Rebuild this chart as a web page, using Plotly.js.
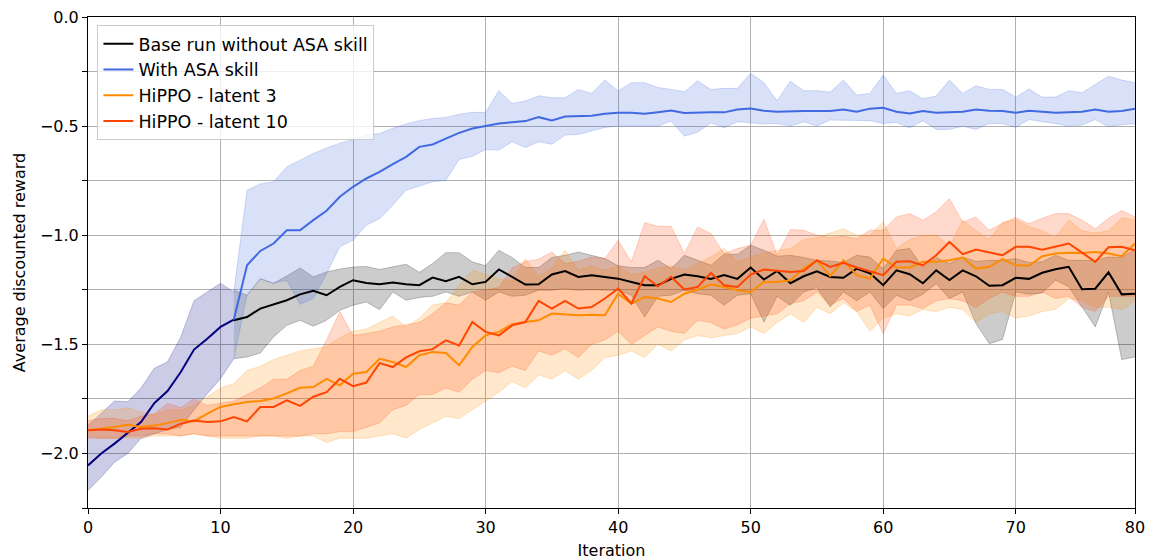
<!DOCTYPE html>
<html>
<head>
<meta charset="utf-8">
<script src="https://cdn.plot.ly/plotly-3.0.1.min.js"></script>
<style>
  html, body { margin: 0; padding: 0; background: #ffffff; }
  #chart { width: 1155px; height: 560px; }
</style>
</head>
<body>
<div id="chart"></div>
<script>
// ---------------- data ----------------
// Shared warm-up phase (iterations 0..11), drawn in navy
const warmStart = 0;
const warmMean  = [-2.055, -2.0, -1.955, -1.907, -1.856, -1.77, -1.714, -1.627, -1.524, -1.474, -1.42, -1.387];
const warmUpper = [-1.872, -1.818, -1.76, -1.763, -1.70, -1.61, -1.58, -1.466, -1.30, -1.26, -1.22, -1.26];
const warmLower = [-2.17, -2.108, -2.04, -2.0, -1.93, -1.91, -1.89, -1.88, -1.80, -1.726, -1.657, -1.566];

// Base run without ASA skill (iterations 11..79)
const baseStart = 11;
const baseMean = [-1.39, -1.375, -1.336, -1.317, -1.298, -1.271, -1.255, -1.275, -1.237, -1.206,
  -1.219, -1.225, -1.217, -1.225, -1.229, -1.194, -1.211, -1.191, -1.225, -1.214,
  -1.157, -1.191, -1.226, -1.225, -1.18, -1.164, -1.191, -1.183, -1.191, -1.199,
  -1.214, -1.229, -1.229, -1.2, -1.18, -1.188, -1.2, -1.183, -1.2, -1.148,
  -1.203, -1.164, -1.22, -1.188, -1.165, -1.191, -1.195, -1.153, -1.174, -1.229,
  -1.161, -1.179, -1.22, -1.161, -1.205, -1.161, -1.188, -1.232, -1.229, -1.195,
  -1.2, -1.172, -1.156, -1.145, -1.248, -1.245, -1.17, -1.271, -1.268];
const baseUpper = [-1.252, -1.275, -1.2, -1.22, -1.187, -1.15, -1.191, -1.168, -1.155, -1.146,
  -1.143, -1.157, -1.145, -1.133, -1.17, -1.13, -1.08, -1.08, -1.122, -1.14,
  -1.069, -1.102, -1.148, -1.148, -1.102, -1.092, -1.077, -1.092, -1.107, -1.14,
  -1.148, -1.148, -1.115, -1.153, -1.092, -1.115, -1.138, -1.087, -1.087, -1.046,
  -1.069, -1.096, -1.092, -1.102, -1.115, -1.118, -1.125, -1.092, -1.1, -1.153,
  -1.069, -1.061, -1.149, -1.102, -1.13, -1.1, -1.12, -1.115, -1.115, -1.107,
  -1.125, -1.122, -1.092, -1.115, -1.115, -1.115, -1.1, -1.102, -1.064];
const baseLower = [-1.566, -1.558, -1.54, -1.466, -1.413, -1.39, -1.417, -1.39, -1.344, -1.321,
  -1.306, -1.341, -1.26, -1.298, -1.285, -1.28, -1.26, -1.28, -1.26, -1.298,
  -1.26, -1.28, -1.275, -1.252, -1.252, -1.245, -1.252, -1.25, -1.252, -1.252,
  -1.275, -1.375, -1.28, -1.275, -1.252, -1.268, -1.275, -1.321, -1.275, -1.268,
  -1.398, -1.28, -1.321, -1.26, -1.24, -1.329, -1.26, -1.3, -1.26, -1.336,
  -1.275, -1.3, -1.27, -1.222, -1.29, -1.26, -1.405, -1.497, -1.478, -1.26,
  -1.27, -1.265, -1.206, -1.236, -1.329, -1.42, -1.26, -1.57, -1.558];

// With ASA skill (iterations 11..79)
const asaStart = 11;
const asaMean = [-1.387, -1.138, -1.072, -1.038, -0.977, -0.977, -0.931, -0.888, -0.824, -0.778,
  -0.74, -0.71, -0.674, -0.641, -0.595, -0.584, -0.557, -0.531, -0.511, -0.5,
  -0.488, -0.482, -0.477, -0.459, -0.474, -0.456, -0.454, -0.453, -0.443, -0.439,
  -0.439, -0.443, -0.436, -0.428, -0.44, -0.437, -0.437, -0.437, -0.424, -0.419,
  -0.43, -0.434, -0.431, -0.431, -0.431, -0.431, -0.424, -0.434, -0.42, -0.416,
  -0.434, -0.442, -0.431, -0.439, -0.437, -0.434, -0.424, -0.43, -0.431, -0.439,
  -0.43, -0.434, -0.439, -0.437, -0.434, -0.424, -0.434, -0.431, -0.42];
const asaUpper = [-1.26, -0.794, -0.765, -0.755, -0.687, -0.655, -0.625, -0.6, -0.578, -0.562,
  -0.541, -0.534, -0.51, -0.49, -0.475, -0.465, -0.46, -0.446, -0.437, -0.437,
  -0.338, -0.396, -0.385, -0.361, -0.37, -0.37, -0.332, -0.35, -0.289, -0.339,
  -0.301, -0.301, -0.323, -0.332, -0.343, -0.292, -0.332, -0.327, -0.327, -0.258,
  -0.301, -0.384, -0.294, -0.338, -0.338, -0.344, -0.289, -0.358, -0.35, -0.266,
  -0.35, -0.338, -0.375, -0.362, -0.289, -0.35, -0.315, -0.332, -0.332, -0.367,
  -0.33, -0.367, -0.367, -0.338, -0.347, -0.309, -0.271, -0.289, -0.301];
const asaLower = [-1.566, -1.275, -1.198, -1.22, -1.206, -1.317, -1.29, -1.176, -1.053, -1.023,
  -0.954, -0.924, -0.862, -0.794, -0.775, -0.755, -0.748, -0.653, -0.638, -0.607,
  -0.61, -0.572, -0.598, -0.572, -0.583, -0.541, -0.538, -0.523, -0.506, -0.5,
  -0.5, -0.5, -0.5, -0.477, -0.546, -0.528, -0.485, -0.508, -0.48, -0.485,
  -0.49, -0.488, -0.5, -0.48, -0.5, -0.472, -0.472, -0.475, -0.475, -0.488,
  -0.483, -0.508, -0.475, -0.515, -0.515, -0.5, -0.515, -0.488, -0.488, -0.506,
  -0.47, -0.48, -0.488, -0.5, -0.495, -0.47, -0.503, -0.494, -0.488];

// HiPPO - latent 3 (iterations 0..79)
const h3Start = 0;
const h3Mean = [-1.894, -1.887, -1.879, -1.869, -1.879, -1.872, -1.861, -1.846, -1.853, -1.818,
  -1.787, -1.775, -1.764, -1.76, -1.748, -1.725, -1.699, -1.696, -1.658, -1.688,
  -1.635, -1.627, -1.566, -1.581, -1.604, -1.55, -1.535, -1.54, -1.596, -1.512,
  -1.459, -1.443, -1.408, -1.398, -1.39, -1.359, -1.362, -1.367, -1.365, -1.367,
  -1.268, -1.313, -1.283, -1.29, -1.306, -1.268, -1.249, -1.225, -1.237, -1.252,
  -1.26, -1.214, -1.214, -1.206, -1.153, -1.115, -1.187, -1.115, -1.183, -1.199,
  -1.107, -1.148, -1.148, -1.122, -1.122, -1.115, -1.102, -1.153, -1.145, -1.11,
  -1.138, -1.14, -1.096, -1.084, -1.08, -1.082, -1.077, -1.084, -1.096, -1.038];
const h3Upper = [-1.83, -1.80, -1.80, -1.79, -1.81, -1.82, -1.80, -1.80, -1.78, -1.74,
  -1.70, -1.68, -1.62, -1.60, -1.57, -1.55, -1.53, -1.52, -1.51, -1.47,
  -1.44, -1.43, -1.40, -1.37, -1.42, -1.38, -1.32, -1.31, -1.23, -1.16,
  -1.18, -1.20, -1.21, -1.107, -1.19, -1.15, -1.069, -1.16, -1.14, -1.16,
  -1.14, -1.18, -1.17, -1.15, -1.14, -1.16, -1.13, -1.10, -1.061, -1.12,
  -1.10, -1.08, -1.07, -1.061, -1.02, -1.01, -0.99, -0.97, -1.0, -1.0,
  -0.939, -1.06, -1.02, -1.0, -1.0, -1.05, -0.931, -0.98, -1.02, -0.94,
  -0.93, -0.96, -0.98, -1.01, -0.93, -0.98, -0.99, -0.98, -0.92, -0.93];
const h3Lower = [-1.92, -1.93, -1.93, -1.93, -1.93, -1.92, -1.92, -1.92, -1.91, -1.92,
  -1.93, -1.93, -1.93, -1.92, -1.92, -1.93, -1.92, -1.92, -1.95, -1.93,
  -1.93, -1.93, -1.92, -1.91, -1.93, -1.89, -1.86, -1.83, -1.84, -1.80,
  -1.76, -1.72, -1.67, -1.70, -1.64, -1.66, -1.62, -1.66, -1.62, -1.56,
  -1.55, -1.53, -1.56, -1.50, -1.53, -1.48, -1.46, -1.47, -1.46, -1.45,
  -1.42, -1.45, -1.40, -1.36, -1.40, -1.33, -1.36, -1.31, -1.35, -1.44,
  -1.38, -1.36, -1.37, -1.34, -1.35, -1.33, -1.34, -1.40, -1.36, -1.35,
  -1.38, -1.37, -1.35, -1.34, -1.29, -1.30, -1.33, -1.33, -1.34, -1.30];

// HiPPO - latent 10 (iterations 0..79)
const h10Start = 0;
const h10Mean = [-1.894, -1.89, -1.894, -1.902, -1.887, -1.884, -1.89, -1.864, -1.849, -1.856,
  -1.853, -1.833, -1.853, -1.787, -1.787, -1.757, -1.782, -1.74, -1.719, -1.658,
  -1.692, -1.675, -1.586, -1.604, -1.56, -1.532, -1.522, -1.482, -1.505, -1.398,
  -1.443, -1.459, -1.413, -1.398, -1.301, -1.336, -1.301, -1.336, -1.329, -1.29,
  -1.245, -1.313, -1.188, -1.234, -1.191, -1.249, -1.237, -1.173, -1.229, -1.237,
  -1.18, -1.157, -1.163, -1.168, -1.164, -1.115, -1.145, -1.126, -1.148, -1.164,
  -1.183, -1.122, -1.119, -1.138, -1.092, -1.031, -1.087, -1.066, -1.08, -1.092,
  -1.053, -1.053, -1.066, -1.053, -1.038, -1.08, -1.122, -1.055, -1.053, -1.069];
const h10Upper = [-1.85, -1.84, -1.84, -1.85, -1.83, -1.82, -1.77, -1.79, -1.75, -1.78,
  -1.77, -1.76, -1.73, -1.70, -1.66, -1.66, -1.62, -1.60, -1.48, -1.35,
  -1.46, -1.45, -1.44, -1.42, -1.41, -1.40, -1.36, -1.31, -1.32, -1.26,
  -1.25, -1.24, -1.15, -1.12, -1.11, -1.077, -1.13, -1.12, -1.10, -1.107,
  -1.023, -1.122, -0.943, -0.959, -0.959, -1.084, -0.962, -0.992, -1.084, -1.061,
  -1.046, -0.927, -1.092, -0.974, -0.977, -1.0, -1.01, -1.005, -1.015, -0.977,
  -0.977, -0.916, -0.901, -0.931, -0.893, -0.832, -0.94, -0.916, -0.977, -0.945,
  -0.919, -0.948, -0.922, -0.901, -0.901, -0.931, -0.97, -0.922, -0.888, -0.916];
const h10Lower = [-1.93, -1.93, -1.93, -1.92, -1.92, -1.91, -1.91, -1.92, -1.91, -1.92,
  -1.92, -1.92, -1.92, -1.92, -1.92, -1.92, -1.92, -1.91, -1.91, -1.90,
  -1.90, -1.88, -1.86, -1.80, -1.78, -1.73, -1.73, -1.70, -1.72, -1.66,
  -1.62, -1.63, -1.60, -1.62, -1.53, -1.55, -1.52, -1.56, -1.50, -1.48,
  -1.44, -1.50, -1.46, -1.42, -1.44, -1.45, -1.39, -1.40, -1.43, -1.41,
  -1.38, -1.37, -1.36, -1.313, -1.30, -1.26, -1.32, -1.29, -1.35, -1.32,
  -1.451, -1.32, -1.32, -1.336, -1.30, -1.29, -1.30, -1.33, -1.29, -1.26,
  -1.28, -1.28, -1.26, -1.29, -1.28, -1.33, -1.35, -1.28, -1.28, -1.28];

// axis tick labels
const xTickVals  = [0, 10, 20, 30, 40, 50, 60, 70, 79];
const xTickText  = ['0', '10', '20', '30', '40', '50', '60', '70', '80'];
const yTickVals  = [0, -0.25, -0.5, -0.75, -1.0, -1.25, -1.5, -1.75, -2.0, -2.25];
const yTickText  = ['0.0', '', '\u22120.5', '', '\u22121.0', '', '\u22121.5', '', '\u22122.0', ''];

const seriesNames = ['Base run without ASA skill', 'With ASA skill', 'HiPPO - latent 3', 'HiPPO - latent 10'];

// ---------------- build traces ----------------
function iters(start, n) { return Array.from({length: n}, (_, k) => start + k); }

function band(start, lower, upper, rgb) {
  const x = iters(start, lower.length);
  const edge = 'rgba(' + rgb + ',0.22)';
  return [
    { x: x, y: lower, type: 'scatter', mode: 'lines', line: {color: edge, width: 1},
      showlegend: false, hoverinfo: 'skip' },
    { x: x, y: upper, type: 'scatter', mode: 'lines', line: {color: edge, width: 1},
      fill: 'tonexty', fillcolor: 'rgba(' + rgb + ',0.2)', showlegend: false, hoverinfo: 'skip' }
  ];
}
function meanLine(start, y, color, name, show) {
  return { x: iters(start, y.length), y: y, type: 'scatter', mode: 'lines',
    line: {color: color, width: 2}, name: name, showlegend: show };
}

const traces = [].concat(
  band(warmStart, warmLower, warmUpper, '0,0,128'),
  band(baseStart, baseLower, baseUpper, '0,0,0'),
  band(asaStart, asaLower, asaUpper, '65,105,225'),
  band(h3Start, h3Lower, h3Upper, '255,140,0'),
  band(h10Start, h10Lower, h10Upper, '255,69,0'),
  [meanLine(warmStart, warmMean, '#000080', 'warm-up', false),
   meanLine(baseStart, baseMean, '#000000', seriesNames[0], true),
   meanLine(asaStart, asaMean, '#4169e1', seriesNames[1], true),
   meanLine(h3Start, h3Mean, '#ff8c00', seriesNames[2], true),
   meanLine(h10Start, h10Mean, '#ff4500', seriesNames[3], true)]
);

const fontFam = 'DejaVu Sans, sans-serif';
const layout = {
  width: 1155, height: 560,
  margin: {l: 88, r: 20, t: 17, b: 52, pad: 0},
  paper_bgcolor: '#ffffff', plot_bgcolor: '#ffffff',
  font: {family: fontFam, size: 16, color: '#000000'},
  showlegend: true,
  legend: {
    x: 0.009, y: 0.984, xanchor: 'left', yanchor: 'top',
    traceorder: 'normal',
    bgcolor: 'rgba(255,255,255,0.8)', bordercolor: '#cccccc', borderwidth: 1,
    font: {family: fontFam, size: 17.5, color: '#000000'},
    tracegroupgap: 0
  },
  xaxis: {
    range: [0, 79], tickmode: 'array', tickvals: xTickVals, ticktext: xTickText,
    showgrid: true, gridcolor: '#b0b0b0', gridwidth: 1,
    zeroline: false, showline: true, linecolor: '#000000', linewidth: 1, mirror: true,
    ticks: 'outside', ticklen: 5, tickcolor: '#000000', tickwidth: 1,
    tickfont: {family: fontFam, size: 16, color: '#000000'},
    title: {text: 'Iteration', font: {family: fontFam, size: 16, color: '#000000'}, standoff: 9}
  },
  yaxis: {
    range: [-2.25, 0], tickmode: 'array', tickvals: yTickVals, ticktext: yTickText,
    showgrid: true, gridcolor: '#b0b0b0', gridwidth: 1,
    zeroline: false, showline: true, linecolor: '#000000', linewidth: 1, mirror: true,
    ticks: 'outside', ticklen: 5, tickcolor: '#000000', tickwidth: 1,
    tickfont: {family: fontFam, size: 16, color: '#000000'},
    title: {text: 'Average discounted reward', font: {family: fontFam, size: 16, color: '#000000'}, standoff: 10}
  }
};

Plotly.newPlot('chart', traces, layout, {displayModeBar: false, staticPlot: true});
</script>
</body>
</html>
